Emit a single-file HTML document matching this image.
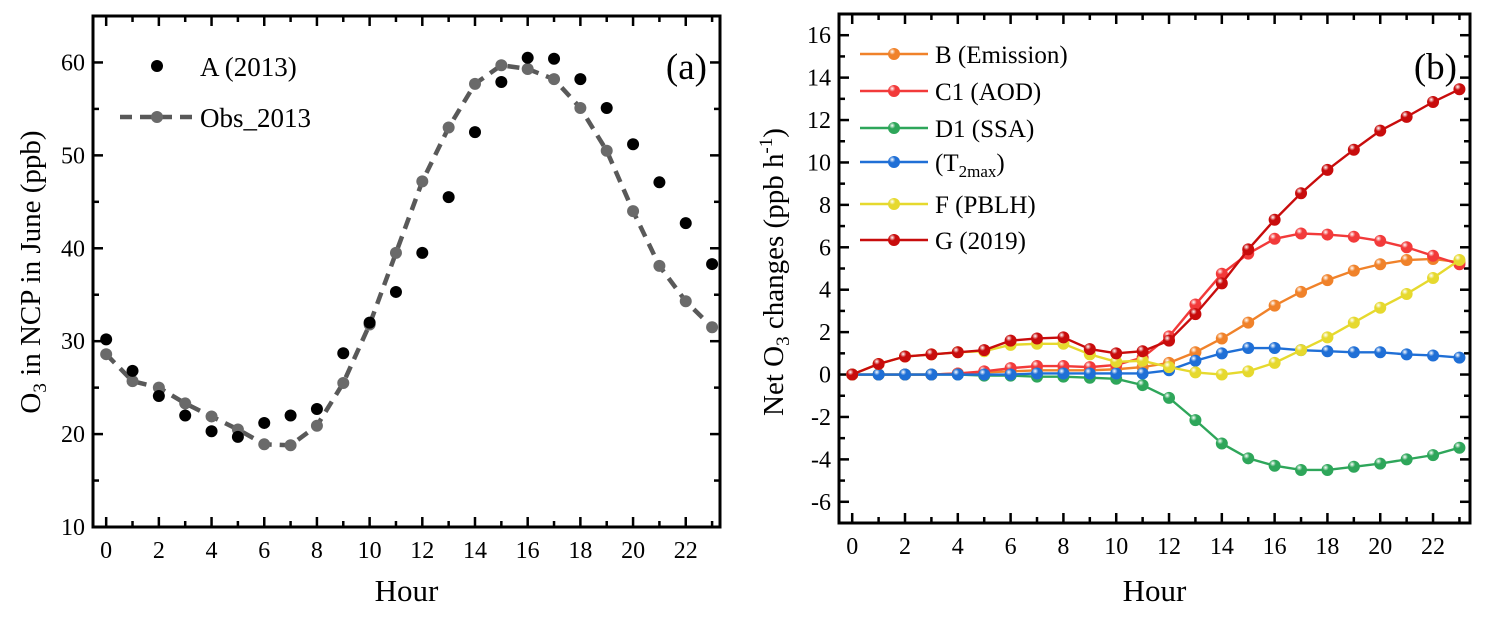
<!DOCTYPE html>
<html><head><meta charset="utf-8"><style>
body{margin:0;background:#fff;}
svg text{font-family:"Liberation Serif","Times New Roman",serif;fill:#000;}
</style></head><body>
<svg id="chart" width="1487" height="617" viewBox="0 0 1487 617" xmlns="http://www.w3.org/2000/svg" font-family="Liberation Serif, serif">
<defs>
</defs>
<g id="pa"></g>
<g id="pb"></g>
</svg>
<script>
const hours = [0,1,2,3,4,5,6,7,8,9,10,11,12,13,14,15,16,17,18,19,20,21,22,23];
const seriesA2013 = [30.2,26.8,24.1,22,20.3,19.7,21.2,22,22.7,28.7,32,35.3,39.5,45.5,52.5,57.9,60.5,60.4,58.2,55.1,51.2,47.1,42.7,38.3];
const seriesObs2013 = [28.6,25.7,25,23.3,21.9,20.5,18.9,18.8,20.9,25.5,31.8,39.5,47.2,53,57.7,59.7,59.3,58.2,55.1,50.5,44,38.1,34.3,31.5];
const seriesB = [0,0,0,0,0.05,0.1,0.15,0.2,0.2,0.2,0.25,0.35,0.55,1.05,1.7,2.45,3.25,3.9,4.45,4.9,5.2,5.4,5.45,5.3];
const seriesC1 = [0,0,0,0,0.05,0.15,0.3,0.4,0.4,0.35,0.45,0.8,1.8,3.3,4.75,5.7,6.4,6.65,6.6,6.5,6.3,6.0,5.6,5.2];
const seriesD1 = [0,0,0,0,0,-0.05,-0.05,-0.1,-0.1,-0.15,-0.2,-0.5,-1.1,-2.15,-3.25,-3.95,-4.3,-4.5,-4.5,-4.35,-4.2,-4.0,-3.8,-3.45];
const seriesT = [0,0,0,0,0,0,0,0.05,0.05,0.05,0.05,0.05,0.2,0.65,1.0,1.25,1.25,1.15,1.1,1.05,1.05,0.95,0.9,0.8];
const seriesF = [0,0.5,0.85,0.95,1.05,1.1,1.4,1.45,1.45,0.95,0.6,0.65,0.35,0.1,0,0.15,0.55,1.15,1.75,2.45,3.15,3.8,4.55,5.4];
const seriesG = [0,0.5,0.85,0.95,1.05,1.15,1.6,1.7,1.75,1.2,1.0,1.1,1.6,2.85,4.3,5.9,7.3,8.55,9.65,10.6,11.5,12.15,12.85,13.45];
const xTicks = [0,2,4,6,8,10,12,14,16,18,20,22];
const yTicksA = [10,20,30,40,50,60];
const yTicksB = [-6,-4,-2,0,2,4,6,8,10,12,14,16];
const legendB = ["B (Emission)","C1 (AOD)","D1 (SSA)","(T","F (PBLH)","G (2019)"];

const NS="http://www.w3.org/2000/svg";
const FF='"Liberation Serif", serif';
function mk(p,tag,at){const e=document.createElementNS(NS,tag);for(const k in at)e.setAttribute(k,at[k]);if(tag==='text')e.style.fontFamily=FF;p.appendChild(e);return e;}
const defs=document.querySelector('defs');
const colors=["#f0822a","#f23a3a","#2ea65a","#1f6fd6","#e6d92e","#c80c0c"];
colors.forEach((c,i)=>{const g=mk(defs,'radialGradient',{id:'g'+i,cx:'0.35',cy:'0.3',r:'0.75'});
mk(g,'stop',{offset:'0','stop-color':'#fff'});mk(g,'stop',{offset:'0.35','stop-color':c});mk(g,'stop',{offset:'1','stop-color':c});});

function axes(g,L,R,T,B,xmin,xmax,ymin,ymax,yt,yminor,name){
  const sx=v=>L+(v-xmin)/(xmax-xmin)*(R-L), sy=v=>B-(v-ymin)/(ymax-ymin)*(B-T);
  const fr=mk(g,'rect',{x:L,y:T,width:R-L,height:B-T,fill:'none',stroke:'#000','stroke-width':3});
  
  
  for(let h=0;h<=23;h++){const x=sx(h),len=h%2==0?10:6;
    mk(g,'line',{x1:x,y1:B,x2:x,y2:B-len,stroke:'#000','stroke-width':2.5});
    mk(g,'line',{x1:x,y1:T,x2:x,y2:T+len,stroke:'#000','stroke-width':2.5});}
  xTicks.forEach(v=>{const t=mk(g,'text',{x:sx(v),y:B+31,'font-size':24,'text-anchor':'middle'});t.textContent=v;
    
    });
  for(let v=ymin;v<=ymax+1e-9;v+=yminor){const y=sy(v);const major=yt.some(q=>Math.abs(q-v)<1e-6);const len=major?10:6;
    mk(g,'line',{x1:L,y1:y,x2:L+len,y2:y,stroke:'#000','stroke-width':2.5});
    mk(g,'line',{x1:R,y1:y,x2:R-len,y2:y,stroke:'#000','stroke-width':2.5});}
  yt.forEach(v=>{const t=mk(g,'text',{x:L-8,y:sy(v)+8,'font-size':24,'text-anchor':'end'});t.textContent=v;
    
    });
  const xt=mk(g,'text',{x:(L+R)/2,y:601,'font-size':31,'text-anchor':'middle'});xt.textContent='Hour';
  
  
  return [sx,sy];
}
// Panel a
const pa=document.getElementById('pa');
const [ax,ay]=axes(pa,93,720,16,527,-0.5,23.3,10,65,yTicksA,5,'panel-a');
let d='';seriesObs2013.forEach((v,i)=>{d+=(i?'L':'M')+ax(hours[i])+','+ay(v);});
const ol=mk(pa,'path',{d:d,fill:'none',stroke:'#595959','stroke-width':4.5,'stroke-dasharray':'12,8'});


seriesObs2013.forEach((v,i)=>{const c=mk(pa,'circle',{cx:ax(hours[i]),cy:ay(v),r:6,fill:'#6a6a6a'});
  
  });
seriesA2013.forEach((v,i)=>{const c=mk(pa,'circle',{cx:ax(hours[i]),cy:ay(v),r:6,fill:'#000'});
  
  });
mk(pa,'circle',{cx:157,cy:66,r:6,fill:'#000'});
let t=mk(pa,'text',{x:200,y:76,'font-size':27});t.textContent='A (2013)';


mk(pa,'line',{x1:120,y1:117,x2:192,y2:117,stroke:'#595959','stroke-width':4.5,'stroke-dasharray':'12,8'});
mk(pa,'circle',{cx:157,cy:117,r:6,fill:'#6a6a6a'});
t=mk(pa,'text',{x:200,y:127,'font-size':27});t.textContent='Obs_2013';


t=mk(pa,'text',{x:707,y:79,'font-size':37,'text-anchor':'end'});t.textContent='(a)';


t=mk(pa,'text',{x:0,y:0,'font-size':29,'text-anchor':'middle',transform:'translate(40,272) rotate(-90)'});
t.innerHTML='O<tspan font-size="19" dy="6">3</tspan><tspan dy="-6"> in NCP in June (ppb)</tspan>';



// Panel b
const pb=document.getElementById('pb');
const [bx,by]=axes(pb,839,1470,14,523,-0.5,23.4,-7,17,yTicksB,1,'panel-b');
const all=[seriesB,seriesC1,seriesD1,seriesT,seriesF,seriesG];
const names=['b-emission','c1-aod','d1-ssa','t2max','f-pblh','g-2019'];
all.forEach((s,k)=>{let d='';s.forEach((v,i)=>{d+=(i?'L':'M')+bx(hours[i])+','+by(v);});
  const p=mk(pb,'path',{d:d,fill:'none',stroke:colors[k],'stroke-width':2.4});
  
  
  s.forEach((v,i)=>{const c=mk(pb,'circle',{cx:bx(hours[i]),cy:by(v),r:6,fill:'url(#g'+k+')'});
    
    });
});
const ly=[54,91,128,162,204,240];
legendB.forEach((lab,k)=>{
  mk(pb,'line',{x1:860,y1:ly[k],x2:928,y2:ly[k],stroke:colors[k],'stroke-width':2.5});
  mk(pb,'circle',{cx:894,cy:ly[k],r:6,fill:'url(#g'+k+')'});
  const tt=mk(pb,'text',{x:935,y:ly[k]+9,'font-size':25});
  if(k==3){tt.innerHTML='(T<tspan font-size="17" dy="6">2max</tspan><tspan dy="-6">)</tspan>';}else tt.textContent=lab;
  
  
});
t=mk(pb,'text',{x:1457,y:79,'font-size':37,'text-anchor':'end'});t.textContent='(b)';


t=mk(pb,'text',{x:0,y:0,'font-size':29,'text-anchor':'middle',transform:'translate(783,272) rotate(-90)'});
t.innerHTML='Net O<tspan font-size="19" dy="6">3</tspan><tspan dy="-6"> changes (ppb h</tspan><tspan font-size="19" dy="-11">-1</tspan><tspan dy="11">)</tspan>';


</script>
</body></html>
